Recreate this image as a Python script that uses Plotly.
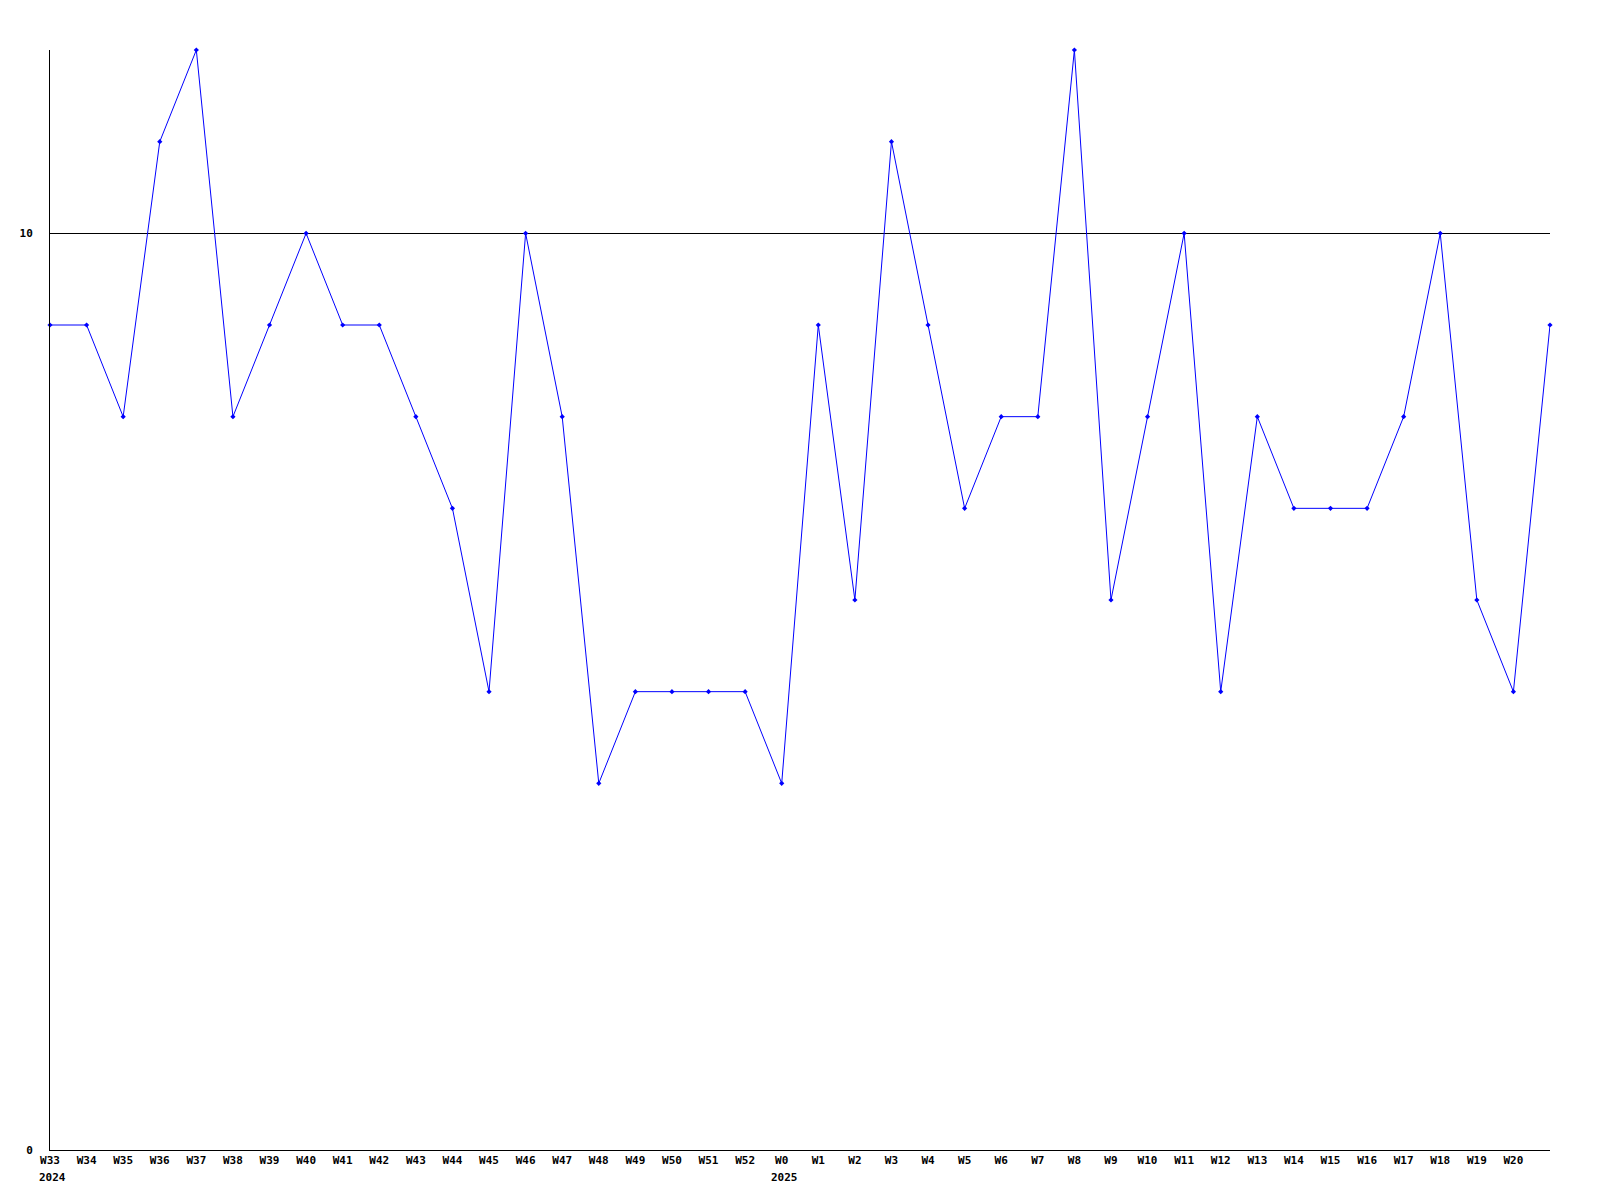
import plotly.graph_objects as go

weeks = ["W33", "W34", "W35", "W36", "W37", "W38", "W39", "W40", "W41", "W42",
         "W43", "W44", "W45", "W46", "W47", "W48", "W49", "W50", "W51", "W52",
         "W0", "W1", "W2", "W3", "W4", "W5", "W6", "W7", "W8", "W9",
         "W10", "W11", "W12", "W13", "W14", "W15", "W16", "W17", "W18", "W19",
         "W20", "W21"]
values = [9, 9, 8, 11, 12, 8, 9, 10, 9, 9,
          8, 7, 5, 10, 8, 4, 5, 5, 5, 5,
          4, 9, 6, 11, 9, 7, 8, 8, 12, 6,
          8, 10, 5, 8, 7, 7, 7, 8, 10, 6,
          5, 9]
year_labels = {"W33": "2024", "W0": "2025"}
y_ticks = [0, 10]

xs = list(range(len(weeks)))
font = dict(family="DejaVu Sans Mono", size=11, color="black")

fig = go.Figure()
fig.add_trace(go.Scatter(
    x=xs, y=values, mode="lines+markers",
    line=dict(color="#0000ff", width=1),
    marker=dict(symbol="diamond", size=4, color="#0000ff"),
    hoverinfo="x+y", cliponaxis=False,
))

for w, yr in year_labels.items():
    fig.add_annotation(x=weeks.index(w), y=0, xref="x", yref="paper",
                       text="<b>" + yr + "</b>", showarrow=False,
                       xanchor="left", yanchor="top", yshift=-19, xshift=-13,
                       font=font)

fig.update_layout(
    width=1600, height=1200,
    margin=dict(l=42, r=58, t=42, b=58, autoexpand=False),
    paper_bgcolor="white", plot_bgcolor="white",
    showlegend=False,
    font=font,
    xaxis=dict(range=[0, len(weeks) - 1], tickmode="array",
               tickvals=xs[:-1], ticktext=["<b>" + w + "</b>" for w in weeks[:-1]],
               showgrid=False, zeroline=False, showline=True, automargin=False,
               linecolor="black", linewidth=1, ticks="", ticklen=0,
               tickfont=font),
    yaxis=dict(range=[0, 12], tickmode="array", tickvals=y_ticks,
               ticktext=["<b>%d</b>" % v for v in y_ticks],
               showgrid=True, gridcolor="black", gridwidth=1, automargin=False,
               zeroline=False, showline=True, linecolor="black", linewidth=1,
               ticks="", ticklabelstandoff=14, tickfont=font),
)

fig.write_html("out.html")
